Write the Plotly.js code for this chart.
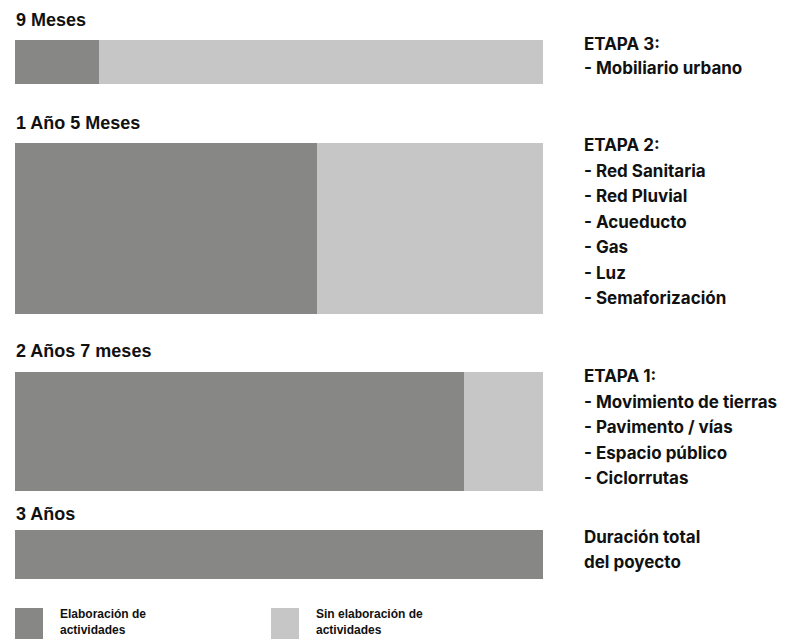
<!doctype html>
<html>
	<head>
		<meta charset="utf-8">
		<script src="https://cdn.plot.ly/plotly-3.0.1.min.js"></script>
		<style>
			html, body { margin: 0; padding: 0; background: #fff; }
			#chart { width: 796px; height: 639px; }
		</style>
		<title>Etapas del proyecto</title>
	</head>
	<body>
		<div id="chart"></div>
		<script>
			// duration labels for each bar (top to bottom)
			let durations = ['9 Meses', '1 Año 5 Meses', '2 Años 7 meses', '3 Años']
			// months with activities done / pending, out of 36
			let elaborated = [5.7, 20.6, 30.6, 36]
			let pending = [30.3, 15.4, 5.4, 0]
			let stages = [
				['ETAPA 3:', '- Mobiliario urbano'],
				['ETAPA 2:', '- Red Sanitaria', '- Red Pluvial', '- Acueducto', '- Gas', '- Luz', '- Semaforización'],
				['ETAPA 1:', '- Movimiento de tierras', '- Pavimento / vías', '- Espacio público', '- Ciclorrutas'],
				['Duración total', 'del poyecto']
			]
			let legendNames = ['Elaboración de<br>actividades', 'Sin elaboración de<br>actividades']

			// layout in pixels (y axis is 1 unit = 1 px, top down)
			let W = 796, H = 639
			let barTop = [40, 143, 371.5, 530]
			let barBottom = [84, 314, 490.5, 579]
			let center = barTop.map((t, i) => (t + barBottom[i]) / 2)
			let thick = barTop.map((t, i) => barBottom[i] - t)
			let labelY = [20, 123, 351, 514]
			let stageY = [44, 145, 376, 537]
			let stageStep = [24, 25.5, 25.5, 25]
			let dark = '#878786'
			let light = '#c6c6c6'
			let px = x => x / W

			let traces = [
				{ type: 'bar', orientation: 'h', x: elaborated, y: center, width: thick,
					marker: { color: dark }, name: 'Elaboración de actividades', hoverinfo: 'x' },
				{ type: 'bar', orientation: 'h', x: pending, y: center, width: thick,
					marker: { color: light }, name: 'Sin elaboración de actividades', hoverinfo: 'x' }
			]

			let annotations = []
			durations.forEach((d, i) => {
				annotations.push({
					text: d, xref: 'paper', yref: 'y', x: px(14), y: labelY[i],
					xanchor: 'left', yanchor: 'middle', showarrow: false,
					font: { family: 'Liberation Sans, Arial, sans-serif', size: 18, color: '#111', weight: 'bold' }
				})
			})
			stages.forEach((lines, i) => {
				lines.forEach((t, j) => {
					annotations.push({
						text: t, xref: 'paper', yref: 'y', x: px(582), y: stageY[i] + j * stageStep[i],
						xanchor: 'left', yanchor: 'middle', showarrow: false,
						font: { family: 'Inter, sans-serif', size: 17, color: '#111', weight: 'bold' }
					})
				})
			})
			let legendX = [15, 271]
			legendNames.forEach((n, i) => {
				annotations.push({
					text: n, xref: 'paper', yref: 'y', x: px(legendX[i] + 43), y: 622,
					xanchor: 'left', yanchor: 'middle', align: 'left', showarrow: false,
					font: { family: 'Liberation Sans, Arial, sans-serif', size: 12, color: '#111', weight: 'bold' }
				})
			})
			let shapes = [dark, light].map((c, i) => ({
				type: 'rect', xref: 'paper', yref: 'y', line: { width: 0 }, fillcolor: c,
				x0: px(legendX[i]), x1: px(legendX[i] + 28), y0: 608, y1: 639
			}))

			Plotly.newPlot('chart', traces, {
				width: W, height: H,
				margin: { l: 0, r: 0, t: 0, b: 0 },
				paper_bgcolor: '#fff', plot_bgcolor: '#fff',
				barmode: 'stack', showlegend: false,
				xaxis: { domain: [px(15), px(543)], range: [0, 36], visible: false, fixedrange: true },
				yaxis: { domain: [0, 1], range: [H, 0], visible: false, fixedrange: true },
				annotations, shapes
			}, { displayModeBar: false, staticPlot: true })
		</script>
	</body>
</html>
